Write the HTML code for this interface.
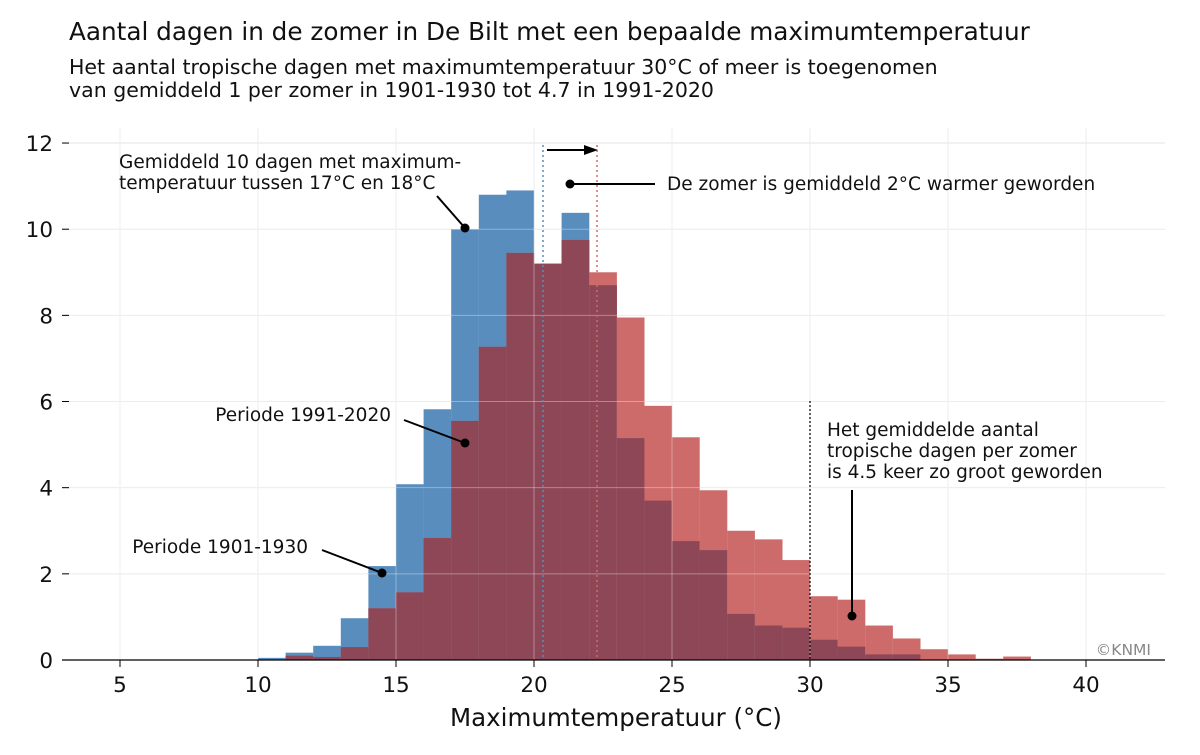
<!DOCTYPE html>
<html><head><meta charset="utf-8"><style>
body{margin:0;background:#fff}
text{font-family:"DejaVu Sans","Liberation Sans",sans-serif}
</style></head><body>
<svg width="1200" height="750" xmlns="http://www.w3.org/2000/svg">
<rect width="1200" height="750" fill="#fff"/>
<text x="69" y="40" font-size="24.7" fill="#111">Aantal dagen in de zomer in De Bilt met een bepaalde maximumtemperatuur</text>
<text x="69" y="74" font-size="20.5" fill="#111">Het aantal tropische dagen met maximumtemperatuur 30°C of meer is toegenomen</text>
<text x="69" y="97" font-size="20.5" fill="#111">van gemiddeld 1 per zomer in 1901-1930 tot 4.7 in 1991-2020</text>
<g id="grid" stroke="#e3e3e3" stroke-width="1"></g>
<g id="bars"></g>
<g id="fg"></g>
</svg>
<script>
const X=t=>120+(t-5)*27.6, Y=v=>660-v*43.08;
const ns="http://www.w3.org/2000/svg";
function el(p,tag,a,txt){const e=document.createElementNS(ns,tag);for(const k in a)e.setAttribute(k,a[k]);if(txt!=null)e.textContent=txt;document.getElementById(p).appendChild(e);return e;}
for(let t=5;t<=40;t+=5)el("grid","line",{x1:X(t),x2:X(t),y1:128,y2:660});
for(let v=2;v<=12;v+=2)el("grid","line",{x1:62,x2:1165,y1:Y(v),y2:Y(v)});
const blue={10:0.05,11:0.17,12:0.33,13:0.97,14:2.18,15:4.08,16:5.82,17:10.0,18:10.8,19:10.9,20:9.2,21:10.38,22:8.7,23:5.15,24:3.7,25:2.76,26:2.55,27:1.07,28:0.8,29:0.75,30:0.47,31:0.31,32:0.13,33:0.13};
const red={11:0.1,12:0.07,13:0.3,14:1.2,15:1.57,16:2.83,17:5.55,18:7.27,19:9.45,20:9.2,21:9.75,22:9.0,23:7.95,24:5.9,25:5.17,26:3.94,27:3.0,28:2.8,29:2.32,30:1.48,31:1.4,32:0.8,33:0.5,34:0.25,35:0.13,36:0.03,37:0.08};
for(let t=10;t<=37;t++){const b=blue[t]||0,r=red[t]||0,m=Math.min(b,r);
 if(b>0)el("bars","rect",{x:X(t),y:Y(b),width:27.7,height:b*43.08,fill:"#588dbd"});
 if(r>0)el("bars","rect",{x:X(t),y:Y(r),width:27.7,height:r*43.08,fill:"#cd6b6b"});
 if(m>0)el("bars","rect",{x:X(t),y:Y(m),width:27.7,height:m*43.08,fill:"#8e4756"});}
for(let t=5;t<=40;t+=5)el("bars","line",{x1:X(t),x2:X(t),y1:128,y2:660,stroke:"#fff","stroke-opacity":0.35});
for(let v=2;v<=10;v+=2)el("bars","line",{x1:62,x2:1165,y1:Y(v),y2:Y(v),stroke:"#fff","stroke-opacity":0.35});
el("fg","line",{x1:62,x2:1165,y1:660,y2:660,stroke:"#000","stroke-width":1.3});
for(let t=5;t<=40;t+=5){el("fg","line",{x1:X(t),x2:X(t),y1:660,y2:667,stroke:"#000"});el("fg","text",{x:X(t),y:692,"font-size":21.5,"text-anchor":"middle",fill:"#111"},t);}
for(let v=0;v<=12;v+=2){el("fg","line",{x1:62,x2:69,y1:Y(v),y2:Y(v),stroke:"#000"});el("fg","text",{x:53,y:Y(v)+8,"font-size":21.5,"text-anchor":"end",fill:"#111"},v);}
el("fg","text",{x:616,y:726,"font-size":24.5,"text-anchor":"middle",fill:"#111"},"Maximumtemperatuur (°C)");
el("fg","line",{x1:543,x2:543,y1:145,y2:660,stroke:"#588dbd","stroke-dasharray":"2,3","stroke-width":1.5});
el("fg","line",{x1:597,x2:597,y1:145,y2:660,stroke:"#cd6b6b","stroke-dasharray":"2,3","stroke-width":1.5});
el("fg","line",{x1:810,x2:810,y1:401,y2:660,stroke:"#111","stroke-dasharray":"2,2","stroke-width":1.3});
el("fg","line",{x1:547,x2:585,y1:150,y2:150,stroke:"#000","stroke-width":2});
el("fg","path",{d:"M598 150 L584 145 L584 155 Z",fill:"#000"});
const ann=[[570,184,655,184],[465,228,437,196],[465,443,404,420],[382,573,322,550],[852,616,852,490]];
for(const a of ann){el("fg","line",{x1:a[0],y1:a[1],x2:a[2],y2:a[3],stroke:"#000","stroke-width":2});el("fg","circle",{cx:a[0],cy:a[1],r:4.5,fill:"#000"});}
const T=(x,y,s,anc)=>el("fg","text",{x:x,y:y,"font-size":18.5,fill:"#111","text-anchor":anc||"start"},s);
T(667,190,"De zomer is gemiddeld 2°C warmer geworden");
T(119,168,"Gemiddeld 10 dagen met maximum-");T(119,189,"temperatuur tussen 17°C en 18°C");
T(391,421,"Periode 1991-2020","end");T(308,553,"Periode 1901-1930","end");
T(827,436,"Het gemiddelde aantal");T(827,457,"tropische dagen per zomer");T(827,478,"is 4.5 keer zo groot geworden");
el("fg","text",{x:1151,y:655,"font-size":15.5,fill:"#888","text-anchor":"end"},"©KNMI");
</script>
</body></html>
